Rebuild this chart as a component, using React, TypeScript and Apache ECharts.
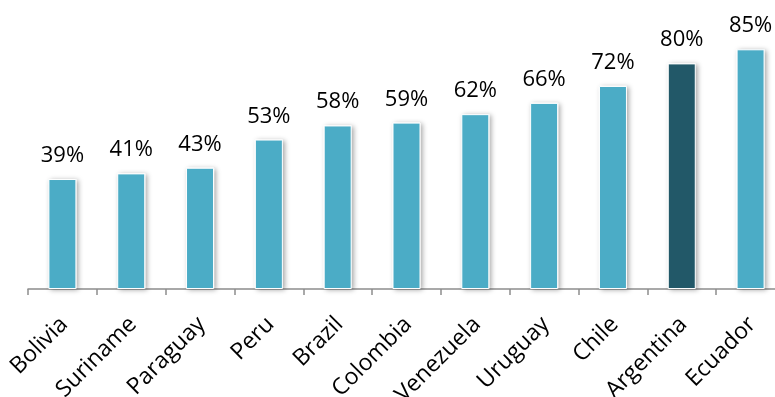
import React, { useEffect, useRef } from "react";
import * as echarts from "echarts";

const categories = ["Bolivia", "Suriname", "Paraguay", "Peru", "Brazil", "Colombia", "Venezuela", "Uruguay", "Chile", "Argentina", "Ecuador"];
const values = [39, 41, 43, 53, 58, 59, 62, 66, 72, 80, 85];
const highlighted = ["Argentina"];

const LIGHT = "#4BACC6";
const DARK = "#215968";

export default function App() {
  const ref = useRef<HTMLDivElement>(null);
  useEffect(() => {
    if (!ref.current) return;
    const chart = echarts.init(ref.current, null, { renderer: "svg" });
    chart.setOption({
      animation: false,
      grid: { left: 28, width: 757, top: 7, height: 282, containLabel: false, outerBoundsMode: "none" },
      xAxis: {
        type: "category",
        data: categories,
        axisLine: { lineStyle: { color: "#8c8c8c", width: 1.5 } },
        axisTick: { show: true, length: 6, lineStyle: { color: "#8c8c8c", width: 1.5 } },
        axisLabel: {
          rotate: 45,
          interval: 0,
          fontFamily: "Open Sans",
          fontSize: 23,
          color: "#000",
          margin: 30,
        },
      },
      yAxis: {
        type: "value",
        min: 0,
        max: 100,
        show: false,
        splitLine: { show: false },
      },
      series: [
        {
          type: "bar",
          barWidth: 28,
          data: values.map((v, i) => ({
            value: v,
            itemStyle: { color: highlighted.includes(categories[i]) ? DARK : LIGHT },
          })),
          itemStyle: {
            borderColor: "#ffffff",
            borderWidth: 1,
            shadowBlur: 5,
            shadowColor: "rgba(0,0,0,0.35)",
            shadowOffsetX: 2,
            shadowOffsetY: 1,
          },
          label: {
            show: true,
            position: "top",
            distance: 15,
            formatter: "{c}%",
            fontFamily: "Open Sans",
            fontSize: 22,
            color: "#000",
          },
        },
      ],
    });
    return () => chart.dispose();
  }, []);
  return <div ref={ref} style={{ position: "fixed", left: 0, top: 0, width: 800, height: 397 }} />;
}
